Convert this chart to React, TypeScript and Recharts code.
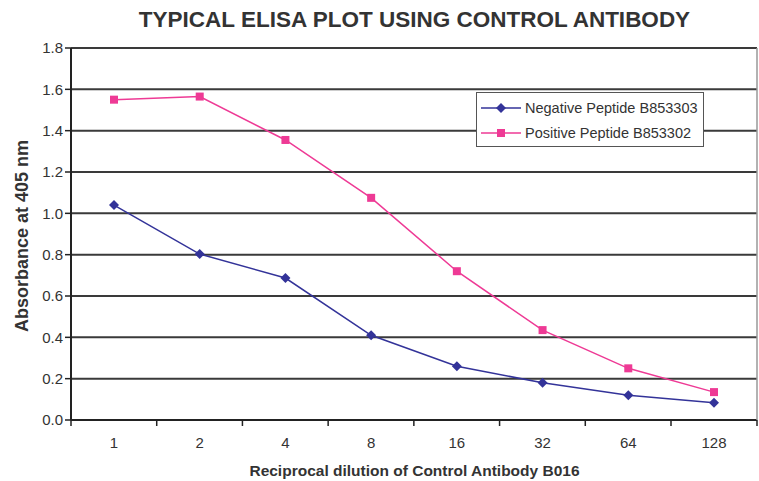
import React from "react";
import { LineChart, Line, XAxis, YAxis, CartesianGrid } from "recharts";

const dilutions = ["1", "2", "4", "8", "16", "32", "64", "128"];
const negative = [1.04, 0.803, 0.687, 0.41, 0.26, 0.18, 0.12, 0.083];
const positive = [1.55, 1.565, 1.355, 1.075, 0.72, 0.435, 0.25, 0.135];
const yTicks = [0, 0.2, 0.4, 0.6, 0.8, 1.0, 1.2, 1.4, 1.6, 1.8];

const NEG = "#333399";
const POS = "#ee3a95";
const FONT = "'Liberation Sans', Arial, sans-serif";

const data = dilutions.map((d, i) => ({ d, neg: negative[i], pos: positive[i] }));

const HALF_BAND = 43;

function XTick(props: any) {
  const { x, y, payload, index } = props;
  return (
    <g>
      <line x1={x - HALF_BAND} x2={x - HALF_BAND} y1={y - 8} y2={y - 2} stroke="#222" strokeWidth={1.5} />
      {index === dilutions.length - 1 && (
        <line x1={x + HALF_BAND} x2={x + HALF_BAND} y1={y - 8} y2={y - 2} stroke="#222" strokeWidth={1.5} />
      )}
      <text x={x} y={y + 20} textAnchor="middle" fontSize={15} fill="#333" fontFamily={FONT}>
        {payload.value}
      </text>
    </g>
  );
}

function Diamond(props: any) {
  const { cx, cy } = props;
  if (cx == null || cy == null) return null;
  const r = 5;
  return <polygon points={`${cx},${cy - r} ${cx + r},${cy} ${cx},${cy + r} ${cx - r},${cy}`} fill={NEG} />;
}

function Square(props: any) {
  const { cx, cy } = props;
  if (cx == null || cy == null) return null;
  return <rect x={cx - 4} y={cy - 4} width={8} height={8} fill={POS} />;
}

function LegendBox() {
  const rows = [
    { label: "Negative Peptide B853303", color: NEG, shape: "d" },
    { label: "Positive Peptide B853302", color: POS, shape: "s" },
  ];
  return (
    <div
      style={{
        position: "absolute",
        left: 476,
        top: 92,
        background: "#fff",
        border: "1.5px solid #555",
        width: 228,
        height: 55,
        boxSizing: "border-box",
        padding: "2px 0 0 4px",
        fontFamily: FONT,
        fontSize: 14.5,
        color: "#333",
      }}
    >
      {rows.map((r) => (
        <div key={r.label} style={{ display: "flex", alignItems: "center", height: 25 }}>
          <svg width={40} height={12} style={{ marginRight: 4 }}>
            <line x1={0} x2={40} y1={6} y2={6} stroke={r.color} strokeWidth={1.5} />
            {r.shape === "d" ? (
              <polygon points="20,1 25,6 20,11 15,6" fill={r.color} />
            ) : (
              <rect x={16} y={2} width={8} height={8} fill={r.color} />
            )}
          </svg>
          <span>{r.label}</span>
        </div>
      ))}
    </div>
  );
}

export default function App() {
  return (
    <div style={{ position: "absolute", left: 0, top: 0, width: 759, height: 481, background: "#fff" }}>
      <LineChart
        width={759}
        height={481}
        data={data}
        margin={{ top: 48, right: 0, left: 0, bottom: 0 }}
        style={{ position: "absolute", left: 0, top: 0 }}
      >
        <CartesianGrid horizontal vertical={false} stroke="#3a3a3a" strokeWidth={2} />
        <XAxis
          dataKey="d"
          height={61}
          padding={{ left: HALF_BAND, right: HALF_BAND }}
          axisLine={{ stroke: "#222", strokeWidth: 2 }}
          tickLine={false}
          tick={<XTick />}
          interval={0}
        />
        <YAxis
          width={71}
          domain={[0, 1.8]}
          ticks={yTicks}
          tickFormatter={(v: number) => v.toFixed(1)}
          axisLine={{ stroke: "#222", strokeWidth: 2 }}
          tickLine={{ stroke: "#222", strokeWidth: 1.5 }}
          tickSize={6}
          tick={{ fontSize: 15, fill: "#333", fontFamily: FONT }}
        />
        <YAxis
          yAxisId="r"
          orientation="right"
          width={2}
          domain={[0, 1.8]}
          tick={false}
          tickLine={false}
          axisLine={{ stroke: "#999", strokeWidth: 1.5 }}
        />
        <Line
          dataKey="neg"
          stroke={NEG}
          strokeWidth={1.5}
          dot={<Diamond />}
          activeDot={false}
          isAnimationActive={false}
        />
        <Line
          dataKey="pos"
          stroke={POS}
          strokeWidth={1.5}
          dot={<Square />}
          activeDot={false}
          isAnimationActive={false}
        />
      </LineChart>
      <LegendBox />
      <div
        style={{
          position: "absolute",
          left: 0,
          width: 829,
          top: 7,
          textAlign: "center",
          fontFamily: FONT,
          fontWeight: "bold",
          fontSize: 22.5,
          color: "#333",
        }}
      >
        TYPICAL ELISA PLOT USING CONTROL ANTIBODY
      </div>
      <div
        style={{
          position: "absolute",
          left: 0,
          width: 829,
          top: 462,
          textAlign: "center",
          fontFamily: FONT,
          fontWeight: "bold",
          fontSize: 15.5,
          color: "#333",
        }}
      >
        Reciprocal dilution of Control Antibody B016
      </div>
      <div
        style={{
          position: "absolute",
          left: 22,
          top: 236,
          transform: "translate(-50%, -50%) rotate(-90deg)",
          whiteSpace: "nowrap",
          fontFamily: FONT,
          fontWeight: "bold",
          fontSize: 18,
          color: "#333",
        }}
      >
        Absorbance at 405 nm
      </div>
    </div>
  );
}
